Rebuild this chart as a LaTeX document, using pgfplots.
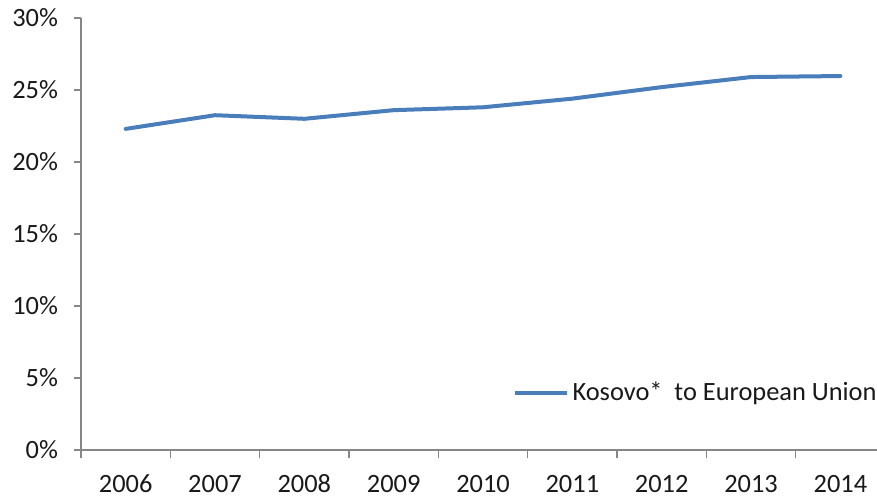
\documentclass[border=0pt]{standalone}
\usepackage{fontspec}
\setmainfont{Carlito}
\usepackage{pgfplots}
\pgfplotsset{compat=1.18}
\definecolor{serblue}{HTML}{4A7EBB}
\definecolor{axgray}{HTML}{868686}
\begin{document}
\begin{tikzpicture}
\begin{axis}[name=ax,
  scale only axis, width=398pt, height=216pt,
  xmin=-0.5, xmax=8.41, ymin=0, ymax=30,
  axis lines=left, axis line style={-, draw=axgray, line width=0.6pt},
  tick align=outside,
  xtick={0,...,8}, xticklabels={2006,2007,2008,2009,2010,2011,2012,2013,2014},
  major x tick style={draw=none},
  minor xtick={-0.5,0.5,1.5,2.5,3.5,4.5,5.5,6.5,7.5},
  minor tick length=4pt, major tick length=3.5pt,
  every tick/.style={draw=axgray, line width=0.6pt},
  ytick={0,5,10,15,20,25,30},
  yticklabels={0\%,5\%,10\%,15\%,20\%,25\%,30\%},
  tick label style={font=\fontsize{13.2}{15}\selectfont, text=black!90},
  yticklabel style={xshift=-4.5pt},
  xticklabel style={inner sep=0pt, yshift=-8.6pt, text height=9pt, text depth=0pt},
  /pgf/number format/assume math mode=true,
  legend style={draw=none, fill=none, at={(1,0.132)}, xshift=5pt, anchor=east,
    font=\fontsize{13.2}{15}\selectfont, text=black!90},
  legend image code/.code={\draw[#1, line cap=butt] (-2pt,0pt) -- (24pt,0pt);},
]
\addplot[serblue, line width=2pt, line cap=round, line join=round] coordinates {
(0,22.3) (1,23.25) (2,23.0) (3,23.6) (4,23.8) (5,24.4) (6,25.2) (7,25.9) (8,25.97)};
\addlegendentry{Kosovo*~ to European Union}
\end{axis}
\pgfresetboundingbox
\path ([xshift=-40.5pt,yshift=-24pt]ax.south west) rectangle ([yshift=9pt]ax.north east);
\end{tikzpicture}
\end{document}
